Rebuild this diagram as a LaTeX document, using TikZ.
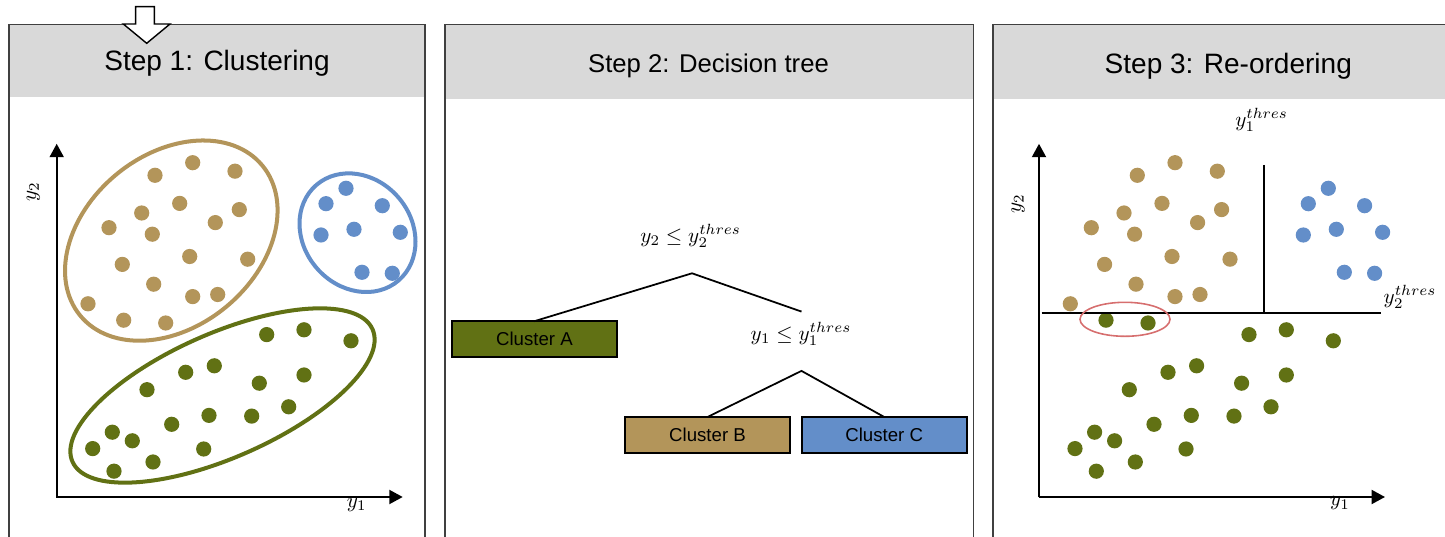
\documentclass[tikz,border=0pt]{standalone}
\usepackage[no-math]{fontspec}
\usepackage{graphicx}
\newfontfamily\arialf{Liberation Sans}
\usetikzlibrary{arrows.meta}
\definecolor{cbrown}{RGB}{179,149,90}
\definecolor{cgreen}{RGB}{97,113,20}
\definecolor{cblue}{RGB}{99,142,201}
\definecolor{cred}{RGB}{214,110,110}
\definecolor{hdr}{RGB}{217,217,217}
\definecolor{frm}{RGB}{64,64,64}
\newcommand\mlbl[1]{\scalebox{0.6}{$#1$}}
\def\brownpts{155/175.3, 192.7/162.7, 235/171.2, 179.7/203.4, 141.7/213, 239.3/209.6, 109/227.7, 152.3/234.2, 215.3/222.6, 122.3/264.4, 189.7/256.5, 247.7/259.2, 153.7/284.2, 192.7/296.6, 217.7/294.5, 88/303.8}
\def\movedpts{123.7/320.2, 165.7/323}
\def\greenpts{266.7/334.6, 304/329.8, 351/340.8, 185.7/372.3, 214.3/365.8, 147/389.7, 259.3/383.2, 304/375, 288.7/406.8, 209/415.4, 251.7/416.1, 171.7/424.3, 112.3/432.2, 132.3/440.8, 92.7/448.6, 203.7/449, 153/462, 114/471.2}
\def\bluepts{346/188.3, 326/203.7, 382.3/205.7, 321/235, 354/229.3, 400.3/232.3, 362/272.3, 392.3/273.3}
\begin{document}
\begin{tikzpicture}[x=0.01cm,y=-0.01cm,
  panelframe/.style={draw=frm,line width=0.45pt},
  header/.style={fill=hdr},
  titletext/.style={font=\arialf\fontsize{7.97pt}{9pt}\selectfont,anchor=base,inner sep=0pt},
  titlesmall/.style={font=\arialf\fontsize{7.3pt}{9pt}\selectfont,anchor=base,inner sep=0pt},
  axis/.style={line width=0.57pt,-{Triangle[length=0.134cm,width=0.14cm]}},
  mathlbl/.style={font=\fontsize{10pt}{12pt}\selectfont,inner sep=0pt},
  clusterring/.style={line width=1.14pt},
  treeline/.style={line width=0.5pt},
  threshline/.style={line width=0.57pt},
  leafbox/.style={draw=black,line width=0.6pt,inner sep=0pt,outer sep=0pt,minimum height=0.36cm,
    font=\arialf\fontsize{5.3pt}{6pt}\selectfont}
]
\useasboundingbox (0,0) rectangle (1445,537);
\clip (0,0) rectangle (1445,537);

% headers
\fill[header] (9,24.7) rectangle (425,97);
\fill[header] (445,24.7) rectangle (973.3,99);
\fill[header] (992.7,24.7) rectangle (1460,99);
% frames
\draw[panelframe] (9,24.7) rectangle (425,560);
\draw[panelframe] (445,24.7) rectangle (973.3,560);
\draw[panelframe] (992.7,24.7) rectangle (1470,560);

% titles
\node[titletext] (t1) at (217,70.9) {Step 1: Clustering};
\node[titlesmall] (t2) at (708.5,72.6) {Step 2: Decision tree};
\node[titletext] (t3) at (1228.3,73.6) {Step 3: Re-ordering};

% block arrow
\draw[fill=white,draw=black,line width=0.4pt,line join=miter]
  (135.7,6.7) -- (154.3,6.7) -- (154.3,24) -- (170,24) -- (146.7,43.3) -- (123.3,24) -- (135.7,24) -- cycle;

% ===== Panel 1 =====
\draw[axis] (56.7,497.5) -- (56.7,143.8);
\draw[axis] (56.2,497) -- (402.7,497);
\node[mathlbl,rotate=90] (p1y2) at (33.3,191.8) {\mlbl{y_2}};
\node[mathlbl] (p1y1) at (356.7,505) {\mlbl{y_1}};

\foreach \x/\y in \brownpts {\fill[cbrown] (\x,\y) circle[radius=7.6];}
\foreach \x/\y in \movedpts {\fill[cbrown] (\x,\y) circle[radius=7.6];}
\foreach \x/\y in \greenpts {\fill[cgreen] (\x,\y) circle[radius=7.6];}
\foreach \x/\y in \bluepts {\fill[cblue] (\x,\y) circle[radius=7.6];}

\draw[clusterring,cbrown,rotate around={39.4:(171.3,240.6)}] (171.3,240.6) ellipse [x radius=118, y radius=86];
\draw[clusterring,cblue,rotate around={130.7:(357.5,232.7)}] (357.5,232.7) ellipse [x radius=63, y radius=54];
\draw[clusterring,cgreen,rotate around={23.8:(222.5,395.5)}] (222.5,395.5) ellipse [x radius=164, y radius=62];

% ===== Panel 2 =====
\node[mathlbl] (q1) at (690.6,236.3) {\mlbl{y_2 \leq y_2^{thres}}};
\node[mathlbl] (q2) at (801,334) {\mlbl{y_1 \leq y_1^{thres}}};
\node[leafbox,fill=cgreen,minimum width=1.644cm] (ca) at (534.4,339.2) {Cluster A};
\node[leafbox,fill=cbrown,minimum width=1.65cm] (cb) at (707.5,435) {Cluster B};
\node[leafbox,fill=cblue,minimum width=1.648cm] (cc) at (884.2,435) {Cluster C};
\coordinate (apex1) at (692,273.3);
\coordinate (apex1r) at (801.5,311.6);
\coordinate (apex2) at (801.5,370.9);
\draw[treeline] (ca.north) -- (apex1) -- (apex1r);
\draw[treeline] (cb.north) -- (apex2) -- (cc.north);

% ===== Panel 3 =====
\begin{scope}[shift={(982.3,0)}]
\foreach \x/\y in \brownpts {\fill[cbrown] (\x,\y) circle[radius=7.6];}
\foreach \x/\y in \movedpts {\fill[cgreen] (\x,\y) circle[radius=7.6];}
\foreach \x/\y in \greenpts {\fill[cgreen] (\x,\y) circle[radius=7.6];}
\foreach \x/\y in \bluepts {\fill[cblue] (\x,\y) circle[radius=7.6];}
\end{scope}
\draw[axis] (1039,497.5) -- (1039,143.8);
\draw[axis] (1038.5,497) -- (1385,497);
\node[mathlbl,rotate=90] (p3y2) at (1018,203.8) {\mlbl{y_2}};
\node[mathlbl] (p3y1) at (1340,503.4) {\mlbl{y_1}};
\coordinate (hl) at (1041.7,313.4);
\coordinate (hr) at (1380.7,313.4);
\coordinate (vt) at (1264,165);
\coordinate (vb) at (1264,313.4);
\draw[threshline] (hl) -- (hr);
\draw[threshline] (vt) -- (vb);
\node[mathlbl] (th1) at (1261.7,120) {\mlbl{y_1^{thres}}};
\node[mathlbl] (th2) at (1410,297.3) {\mlbl{y_2^{thres}}};
\draw[cred,line width=0.45pt] (1125,319.3) ellipse [x radius=45, y radius=17];
\end{tikzpicture}
\end{document}
